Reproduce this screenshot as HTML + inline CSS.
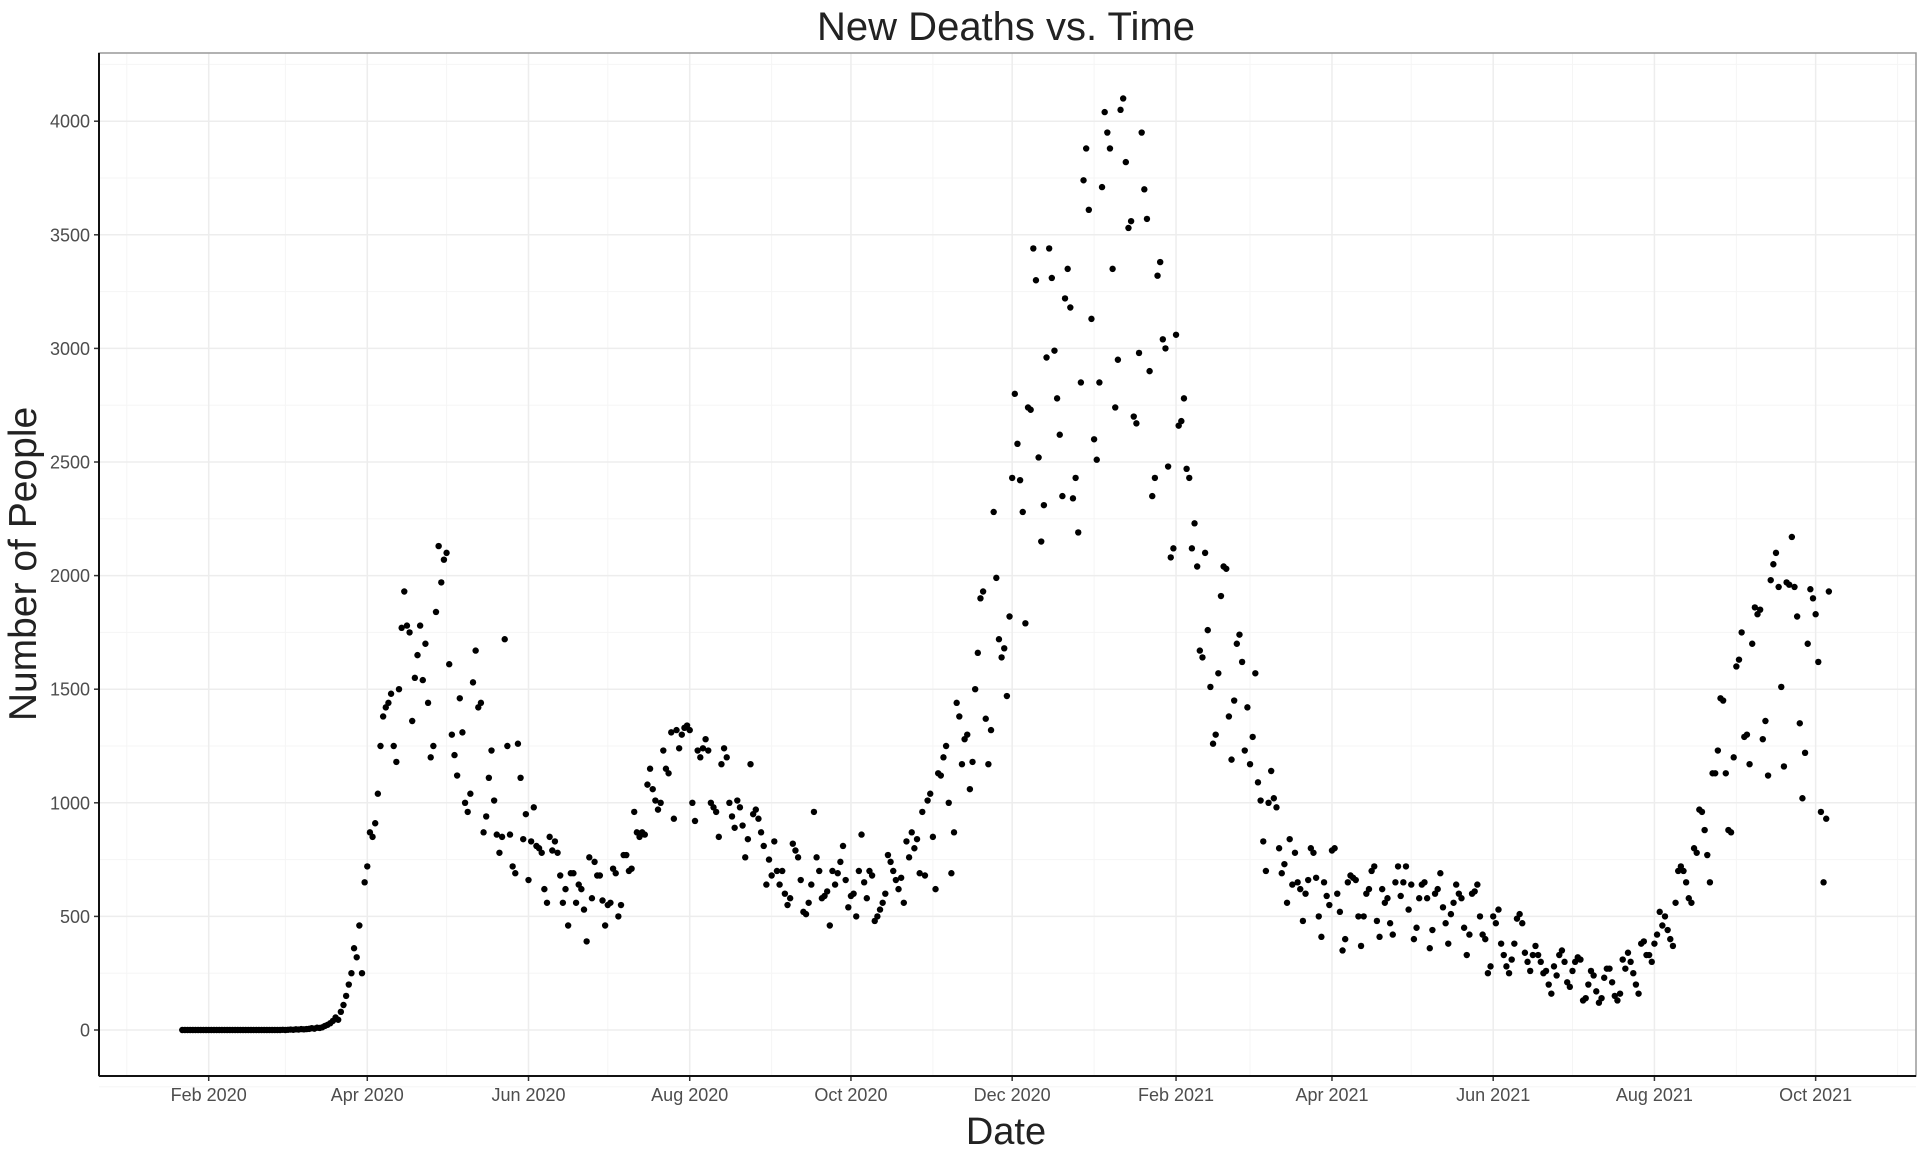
<!DOCTYPE html>
<html><head><meta charset="utf-8"><title>New Deaths vs. Time</title>
<style>html,body{margin:0;padding:0;background:#fff}svg{display:block}text{font-family:"Liberation Sans",Arial,sans-serif}</style>
</head><body>
<svg id="chart" width="1920" height="1152" viewBox="0 0 1920 1152" xmlns="http://www.w3.org/2000/svg">
<rect x="0" y="0" width="1920" height="1152" fill="#fff"/>
<text x="1006" y="40" text-anchor="middle" font-size="40" fill="#222">New Deaths vs. Time</text>
<text x="1006" y="1144" text-anchor="middle" font-size="38" fill="#222">Date</text>
<text transform="translate(36,564) rotate(-90)" text-anchor="middle" font-size="39" fill="#222">Number of People</text>
<g id="grid"></g>
<g id="points"></g>
<g id="axes"></g>
</svg>
<script>
const yTicks = [0, 500, 1000, 1500, 2000, 2500, 3000, 3500, 4000];
const xTickDates = ["2020-02-01","2020-04-01","2020-06-01","2020-08-01","2020-10-01","2020-12-01","2021-02-01","2021-04-01","2021-06-01","2021-08-01","2021-10-01"];
const xTickLabels = ["Feb 2020","Apr 2020","Jun 2020","Aug 2020","Oct 2020","Dec 2020","Feb 2021","Apr 2021","Jun 2021","Aug 2021","Oct 2021"];
const xMinorDates = ["2020-01-01","2020-03-01","2020-05-01","2020-07-01","2020-09-01","2020-11-01","2021-01-01","2021-03-01","2021-05-01","2021-07-01","2021-09-01","2021-11-01"];
const monthStarts = ["2020-01-22","2020-02-01","2020-03-01","2020-04-01","2020-05-01","2020-06-01","2020-07-01","2020-08-01","2020-09-01","2020-10-01","2020-11-01","2020-12-01","2021-01-01","2021-02-01","2021-03-01","2021-04-01","2021-05-01","2021-06-01","2021-07-01","2021-08-01","2021-09-01","2021-10-01"];
const d2020jan = [0,0,0,0,0,0,0,0,0,0];
const d2020feb = [0,0,0,0,0,0,0,0,0,0,0,0,0,0,0,0,0,0,0,0,0,0,0,0,0,0,0,0,1];
const d2020mar = [0,1,2,1,3,2,4,3,4,5,8,6,10,9,12,18,23,30,40,55,45,80,110,150,200,250,360,320,460,250,650];
const d2020apr = [720,870,850,910,1040,1250,1380,1420,1440,1480,1250,1180,1500,1770,1930,1780,1750,1360,1550,1650,1780,1540,1700,1440,1200,1250,1840,2130,1970,2070];
const d2020may = [2100,1610,1300,1210,1120,1460,1310,1000,960,1040,1530,1670,1420,1440,870,940,1110,1230,1010,860,780,850,1720,1250,860,720,690,1260,1110,840,950];
const d2020jun = [660,830,980,810,800,780,620,560,850,790,830,780,680,560,620,460,690,690,560,640,620,530,390,760,580,740,680,680,570,460];
const d2020jul = [550,560,710,690,500,550,770,770,700,710,960,870,850,870,860,1080,1150,1060,1010,970,1000,1230,1150,1130,1310,930,1320,1240,1300,1330,1340];
const d2020aug = [1320,1000,920,1230,1200,1240,1280,1230,1000,980,960,850,1170,1240,1200,1000,940,890,1010,980,900,760,840,1170,950,970,930,870,810,640,750];
const d2020sep = [680,830,700,640,700,600,550,580,820,790,760,660,520,510,560,640,960,760,700,580,590,610,460,700,640,690,740,810,660,540];
const d2020oct = [590,600,500,700,860,650,580,700,680,480,500,530,560,600,770,740,700,660,620,670,560,830,760,870,800,840,690,960,680,1010,1040];
const d2020nov = [850,620,1130,1120,1200,1250,1000,690,870,1440,1380,1170,1280,1300,1060,1180,1500,1660,1900,1930,1370,1170,1320,2280,1990,1720,1640,1680,1470,1820];
const d2020dec = [2430,2800,2580,2420,2280,1790,2740,2730,3440,3300,2520,2150,2310,2960,3440,3310,2990,2780,2620,2350,3220,3350,3180,2340,2430,2190,2850,3740,3880,3610,3130];
const d2021jan = [2600,2510,2850,3710,4040,3950,3880,3350,2740,2950,4050,4100,3820,3530,3560,2700,2670,2980,3950,3700,3570,2900,2350,2430,3320,3380,3040,3000,2480,2080,2120];
const d2021feb = [3060,2660,2680,2780,2470,2430,2120,2230,2040,1670,1640,2100,1760,1510,1260,1300,1570,1910,2040,2030,1380,1190,1450,1700,1740,1620,1230,1420];
const d2021mar = [1170,1290,1570,1090,1010,830,700,1000,1140,1020,980,800,690,730,560,840,640,780,650,620,480,600,660,800,780,670,500,410,650,590,550];
const d2021apr = [790,800,600,520,350,400,650,680,670,660,500,370,500,600,620,700,720,480,410,620,560,580,470,420,650,720,590,650,720,530];
const d2021may = [640,400,450,580,640,650,580,360,440,600,620,690,540,470,380,510,560,640,600,580,450,330,420,600,610,640,500,420,400,250,280];
const d2021jun = [500,470,530,380,330,280,250,310,380,490,510,470,340,300,260,330,370,330,300,250,260,200,160,280,240,330,350,300,210,190];
const d2021jul = [260,300,320,310,130,140,200,260,240,170,120,140,230,270,270,210,150,130,160,310,270,340,300,250,200,160,380,390,330,330,300];
const d2021aug = [380,420,520,460,500,440,400,370,560,700,720,700,650,580,560,800,780,970,960,880,770,650,1130,1130,1230,1460,1450,1130,880,870,1200];
const d2021sep = [1600,1630,1750,1290,1300,1170,1700,1860,1830,1850,1280,1360,1120,1980,2050,2100,1950,1510,1160,1970,1960,2170,1950,1820,1350,1020,1220,1700,1940,1900];
const d2021oct = [1830,1620,960,650,930,1930];
const monthValues = [d2020jan,d2020feb,d2020mar,d2020apr,d2020may,d2020jun,d2020jul,d2020aug,d2020sep,d2020oct,d2020nov,d2020dec,d2021jan,d2021feb,d2021mar,d2021apr,d2021may,d2021jun,d2021jul,d2021aug,d2021sep,d2021oct];

const NS = "http://www.w3.org/2000/svg";
const P = {l:99, r:1916, t:53, b:1076};
const DAY = 86400000;
const x0 = Date.UTC(2020,1,1);
function xScale(dateMs){ return 208.7 + (dateMs - x0)/DAY*2.643; }
function yScale(v){ return 1030 - v*(113.6/500); }
function parse(s){ const p=s.split("-"); return Date.UTC(+p[0], +p[1]-1, +p[2]); }
function mk(tag, attrs, parent){ const e=document.createElementNS(NS,tag); for(const k in attrs) e.setAttribute(k, attrs[k]); parent.appendChild(e); return e; }

const grid = document.getElementById("grid");
const axes = document.getElementById("axes");
const pts = document.getElementById("points");

mk("rect",{x:P.l,y:P.t,width:P.r-P.l,height:P.b-P.t,fill:"#fff",stroke:"none"},grid);
const yMinorVals = [-250,250,750,1250,1750,2250,2750,3250,3750,4250];
yMinorVals.forEach(v=>{
  const y = yScale(v);
  const g = mk("line",{x1:P.l,x2:P.r,y1:y,y2:y,stroke:"#f5f5f5","stroke-width":1},grid);
  
  
});
xMinorDates.forEach(d=>{
  const x = xScale(parse(d));
  if (x<P.l||x>P.r) return;
  const g = mk("line",{x1:x,x2:x,y1:P.t,y2:P.b,stroke:"#f5f5f5","stroke-width":1},grid);
  
  
});
yTicks.forEach(v=>{
  const y = yScale(v);
  const g = mk("line",{x1:P.l,x2:P.r,y1:y,y2:y,stroke:"#ededed","stroke-width":1.5},grid);
  
  
  const t = mk("line",{x1:P.l-5,x2:P.l,y1:y,y2:y,stroke:"#333","stroke-width":1.5},axes);
  
  
  const lb = mk("text",{x:P.l-9,y:y+6.5,"text-anchor":"end","font-size":18,fill:"#4d4d4d"},axes);
  lb.textContent = v;
  
  
});
xTickDates.forEach((d,i)=>{
  const x = xScale(parse(d));
  const g = mk("line",{x1:x,x2:x,y1:P.t,y2:P.b,stroke:"#ededed","stroke-width":1.5},grid);
  
  
  const t = mk("line",{x1:x,x2:x,y1:P.b,y2:P.b+5,stroke:"#333","stroke-width":1.5},axes);
  
  
  const lb = mk("text",{x:x,y:P.b+25,"text-anchor":"middle","font-size":18,fill:"#4d4d4d"},axes);
  lb.textContent = xTickLabels[i];
  
  
});
const border = mk("rect",{x:P.l,y:P.t,width:P.r-P.l,height:P.b-P.t,fill:"none",stroke:"#999","stroke-width":1.5},axes);


const yAxis = mk("line",{x1:P.l,x2:P.l,y1:P.t,y2:P.b,stroke:"#111","stroke-width":2},axes);


const xAxis = mk("line",{x1:P.l,x2:P.r,y1:P.b,y2:P.b,stroke:"#111","stroke-width":2},axes);



monthValues.forEach((arr,mi)=>{
  const start = parse(monthStarts[mi]);
  arr.forEach((v,di)=>{
    const c = mk("circle",{cx:xScale(start+di*DAY),cy:yScale(v),r:3.2,fill:"#000"},pts);
    
    
  });
});
</script>
</body></html>
